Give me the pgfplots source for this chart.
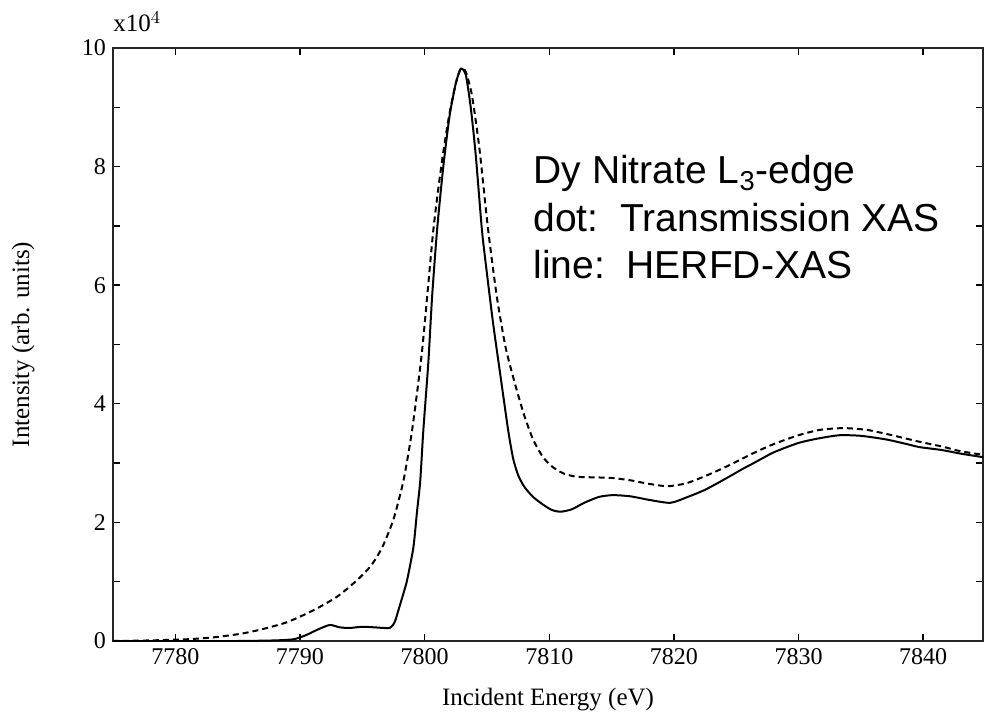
\documentclass[border=0pt]{standalone}
\usepackage{fontspec}
\setmainfont{Liberation Serif}
\newfontfamily\annfont{Liberation Sans}
\usepackage{pgfplots}
\pgfplotsset{compat=1.18}
\begin{document}
\begin{tikzpicture}
\begin{axis}[
  name=ax,
  scale only axis,
  width=435pt, height=296.5pt,
  xmin=7775, xmax=7844.8,
  ymin=0, ymax=10,
  xtick={7780,7790,...,7840},
  ytick={0,2,...,10},
  minor ytick={1,3,...,9},
  scaled ticks=false,
  xticklabel style={/pgf/number format/.cd, 1000 sep={}},
  /pgf/number format/assume math mode=true,
  tick label style={font=\fontsize{12}{14}\selectfont, black},
  major tick length=3.5pt, minor tick length=3.5pt,
  tick style={line width=0.7pt, black},
  axis line style={line width=0.8pt, black!85},
  xlabel={Incident Energy (eV)},
  ylabel={Intensity (arb. units)},
  label style={font=\fontsize{12.5}{15}\selectfont},
  xlabel style={at={(rel axis cs:0.5,-0.0995)}, anchor=center},
  ylabel style={at={(rel axis cs:-0.1034,0.5)}, anchor=center},
  clip mode=individual,
]
% Transmission XAS (dashed)
\addplot[black, line width=1pt, dash pattern=on 3pt off 2pt, smooth, tension=0.4] coordinates {
(7775,0.0) (7778,0.01) (7781,0.03) (7783,0.06) (7785.2,0.12) (7787,0.2) (7789,0.32)
(7791.1,0.52) (7793,0.75) (7794.6,1.03) (7795.7,1.27) (7796.6,1.58) (7797.5,2.05)
(7798.3,2.7) (7799.0,3.56) (7799.8,4.9) (7800.7,6.93) (7801.4,8.1) (7802.0,8.9)
(7802.5,9.4) (7802.9,9.65) (7803.3,9.6) (7803.8,9.2) (7804.4,8.3) (7805.1,6.93)
(7805.8,5.8) (7806.5,4.95) (7807.3,4.3) (7808.0,3.8) (7808.7,3.4) (7809.5,3.1)
(7810.3,2.93) (7811.2,2.82) (7812.2,2.77) (7813.5,2.76) (7815.0,2.75) (7816.5,2.71)
(7818.0,2.65) (7819.5,2.61) (7821.0,2.66) (7822.5,2.78) (7824.0,2.92) (7826.4,3.17)
(7828.0,3.32) (7830.0,3.47) (7831.7,3.56) (7833.6,3.59) (7835.5,3.56) (7837.5,3.47)
(7839.7,3.36) (7841.5,3.28) (7843.0,3.2) (7844.8,3.14)
};
% HERFD-XAS (solid)
\addplot[black, line width=1pt, smooth, tension=0.4] coordinates {
(7775,0.0) (7780,0.0) (7785,0.0) (7788,0.01) (7789.5,0.03) (7790.5,0.1) (7791.5,0.2)
(7792.4,0.27) (7793.2,0.23) (7794,0.22) (7795,0.24) (7796,0.23) (7797.2,0.22)
(7797.6,0.32) (7797.9,0.52) (7798.3,0.8) (7798.6,1.03) (7799.1,1.58) (7799.4,2.2)
(7799.65,2.7) (7799.9,3.56) (7800.3,4.7) (7800.6,5.8) (7801.0,6.93) (7801.5,8.0)
(7802.0,8.85) (7802.5,9.4) (7802.9,9.65) (7803.3,9.55) (7803.7,9.0) (7804.1,8.2)
(7804.6,6.93) (7805.0,6.2) (7805.5,5.35) (7806.1,4.45) (7806.7,3.56) (7807.1,3.08)
(7807.5,2.8) (7808.0,2.6) (7808.7,2.43) (7809.5,2.3) (7810.2,2.21) (7810.9,2.18) (7811.8,2.22)
(7812.8,2.33) (7814.0,2.43) (7815.1,2.46) (7816.5,2.44) (7818.0,2.38) (7819.7,2.33)
(7821.0,2.42) (7822.5,2.55) (7824.0,2.72) (7825.5,2.9) (7826.4,3.0) (7828.0,3.18)
(7830.0,3.34) (7831.7,3.42) (7833.3,3.47) (7835.0,3.46) (7837.0,3.4) (7838.5,3.33)
(7839.7,3.27) (7841.5,3.22) (7843.0,3.16) (7844.8,3.10)
};
\node[anchor=base west, inner sep=0pt, font=\fontsize{12.5}{14}\selectfont] at ([yshift=8pt]rel axis cs:0,1) {x10$^4$};
\node[anchor=base west, inner sep=0pt, font=\annfont\fontsize{19.5}{23}\selectfont] at (rel axis cs:0.483,0.771) {Dy Nitrate L\textsubscript{3}-edge};
\node[anchor=base west, inner sep=0pt, font=\annfont\fontsize{19.5}{23}\selectfont] at (rel axis cs:0.483,0.691) {dot:\ \ Transmission XAS};
\node[anchor=base west, inner sep=0pt, font=\annfont\fontsize{19.5}{23}\selectfont] at (rel axis cs:0.483,0.612) {line:\ \ HERFD-XAS};
\end{axis}
\pgfresetboundingbox
\path[use as bounding box] ([shift={(-56.5pt,-41pt)}]ax.south west) rectangle ([shift={(1pt,24pt)}]ax.north east);
\end{tikzpicture}
\end{document}
